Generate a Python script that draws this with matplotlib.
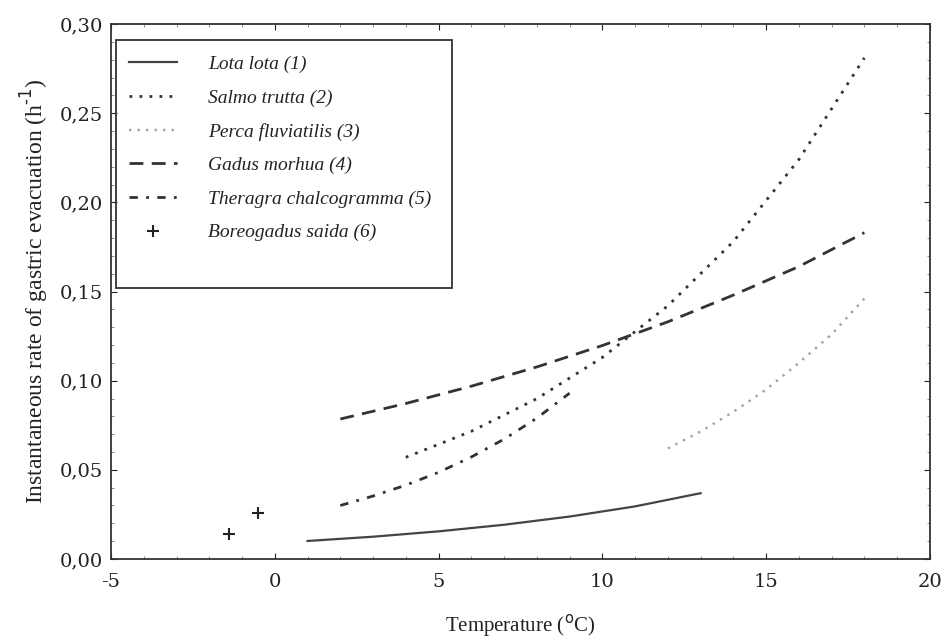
import matplotlib
matplotlib.use("Agg")
import matplotlib.pyplot as plt
from matplotlib.patches import Rectangle
from matplotlib.ticker import MultipleLocator, FuncFormatter

# ================================
# Data
lota_x = [1, 3, 5, 7, 9, 11, 13]
lota_y = [0.0101, 0.0125, 0.0155, 0.0192, 0.0238, 0.0295, 0.0369]

salmo_x = [4, 6, 8, 10, 12, 14, 16, 18]
salmo_y = [0.057, 0.0716, 0.0899, 0.113, 0.142, 0.178, 0.224, 0.281]

perca_x = [12, 13, 14, 15, 16, 17, 18]
perca_y = [0.062, 0.0715, 0.0825, 0.095, 0.110, 0.126, 0.146]

gadus_x = [2, 4, 6, 8, 10, 12, 14, 16, 18]
gadus_y = [0.0785, 0.0872, 0.0969, 0.1077, 0.1197, 0.133, 0.148, 0.164, 0.183]

theragra_x = [2, 3, 4, 5, 6, 7, 8, 9]
theragra_y = [0.030, 0.0353, 0.0414, 0.0486, 0.0572, 0.0672, 0.079, 0.093]

boreo_x = [-1.4, -0.5]
boreo_y = [0.014, 0.026]

labels = ["Lota lota (1)", "Salmo trutta (2)", "Perca fluviatilis (3)",
          "Gadus morhua (4)", "Theragra chalcogramma (5)", "Boreogadus saida (6)"]
# ================================

plt.rcParams['font.family'] = ['Liberation Serif', 'DejaVu Serif']

fig = plt.figure(figsize=(9.45, 6.44), dpi=100)
ax = fig.add_axes([0.1175, 0.132, 0.8665, 0.8307])

dark = '#333333'
ax.plot(lota_x, lota_y, color='#444444', lw=1.6, ls='-', label=labels[0])
ax.plot(salmo_x, salmo_y, color=dark, lw=2.0, ls=(0, (1, 2.6)), label=labels[1])
ax.plot(perca_x, perca_y, color='#a0a0a0', lw=1.7, ls=(0, (1, 2.6)), label=labels[2])
ax.plot(gadus_x, gadus_y, color=dark, lw=2.0, ls=(0, (5, 3)), label=labels[3])
ax.plot(theragra_x, theragra_y, color=dark, lw=2.0, ls=(0, (3, 3, 1, 3)), label=labels[4])
ax.plot(boreo_x, boreo_y, ls='none', marker='+', ms=9, mew=1.5, color='#222222', label=labels[5])

ax.set_xlim(-5, 20)
ax.set_ylim(0, 0.30)
ax.xaxis.set_major_locator(MultipleLocator(5))
ax.xaxis.set_minor_locator(MultipleLocator(1))
ax.yaxis.set_major_locator(MultipleLocator(0.05))
ax.yaxis.set_minor_locator(MultipleLocator(0.01))
ax.yaxis.set_major_formatter(FuncFormatter(lambda v, p: f"{v:.2f}".replace('.', ',')))
ax.xaxis.set_major_formatter(FuncFormatter(lambda v, p: f"{v:g}".replace('\u2212', '-')))
ax.tick_params(which='both', direction='in', top=True, right=True, color='#777777')
ax.tick_params(which='major', length=4, labelsize=14, colors='#222222')
ax.tick_params(axis='x', which='major', pad=10)
ax.tick_params(axis='y', which='major', pad=6)
ax.tick_params(which='minor', length=2)
for t in ax.get_xticklabels() + ax.get_yticklabels():
    t.set_fontfamily('DejaVu Serif')
for s in ax.spines.values():
    s.set_color('#333333')
    s.set_linewidth(1.3)

ax.set_xlabel(r"Temperature ($^{\rm o}$C)", fontsize=15, color='#222222', labelpad=15)
ax.set_ylabel(r"Instantaneous rate of gastric evacuation (h$^{\text{-1}}$)", fontsize=17,
              color='#222222', labelpad=6)

# legend box (drawn separately so it can keep the empty space at the bottom)
ax.add_patch(Rectangle((0.006, 0.5065), 0.41, 0.4635, transform=ax.transAxes,
                       fill=False, edgecolor='#333333', lw=1.3, zorder=5))
leg = ax.legend(loc='upper left', bbox_to_anchor=(0.0, 0.974), frameon=False,
                handlelength=2.5, handletextpad=1.6, labelspacing=0.82,
                prop={'style': 'italic', 'size': 14})
for t in leg.get_texts():
    t.set_color('#222222')

fig.savefig("out.png", dpi=100)
